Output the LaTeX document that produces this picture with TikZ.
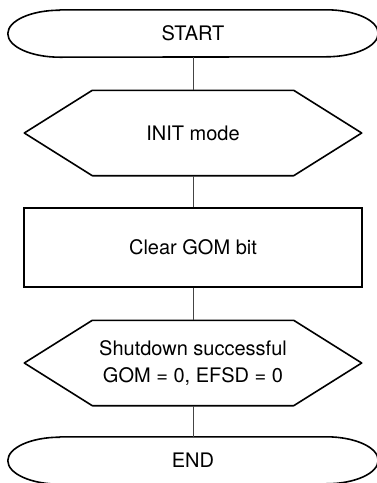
\documentclass[tikz,border=0pt]{standalone}
\usepackage{fontspec}
\setmainfont{TeX Gyre Heros}
\usepackage{tikz}
\usepackage{xcolor}
\usetikzlibrary{positioning}
\definecolor{linkgray}{HTML}{444444}

\begin{document}
\begin{tikzpicture}[x=1pt, y=1pt,
            terminal/.style={rectangle, minimum width=370pt, minimum height=47pt, inner sep=0pt, font=\fontsize{20}{27}\selectfont},
            decision/.style={rectangle, minimum width=201pt, minimum height=85pt, inner sep=0pt, align=center, font=\fontsize{20}{27}\selectfont},
            process/.style={rectangle, draw=black, line width=1.6pt, minimum width=338pt, minimum height=79pt, inner sep=0pt, font=\fontsize{20}{27}\selectfont},
            outline/.style={draw=black, line width=1.6pt, line join=round},
            link/.style={draw=linkgray, line width=1pt}]
            \useasboundingbox (0,0) rectangle (376,-483);
            \node[terminal] (start) at (193,-33.5) {START};
            \node[decision] (init) at (193,-133) {INIT mode};
            \node[process] (clear) at (193,-247.5) {Clear GOM bit};
            \node[decision] (done) at (193,-363) {Shutdown successful\\GOM = 0, EFSD = 0};
            \node[terminal] (stop) at (193,-460.5) {END};
            % outlines
            \foreach \n in {start,stop}
                \draw[outline] ([xshift=52pt]\n.north west) -- ([xshift=-52pt]\n.north east)
                    arc[start angle=90, end angle=-90, x radius=52pt, y radius=23.5pt]
                    -- ([xshift=52pt]\n.south west)
                    arc[start angle=270, end angle=90, x radius=52pt, y radius=23.5pt] -- cycle;
            \foreach \n in {init,done}
                \draw[outline] (\n.north west) -- (\n.north east) -- ([xshift=68pt]\n.east)
                    -- (\n.south east) -- (\n.south west) -- ([xshift=-68pt]\n.west) -- cycle;
            \draw[link] (start.south)--(init.north);
            \draw[link] (init.south)--(clear.north);
            \draw[link] (clear.south)--(done.north);
            \draw[link] (done.south)--(stop.north);
        \end{tikzpicture}
\end{document}
